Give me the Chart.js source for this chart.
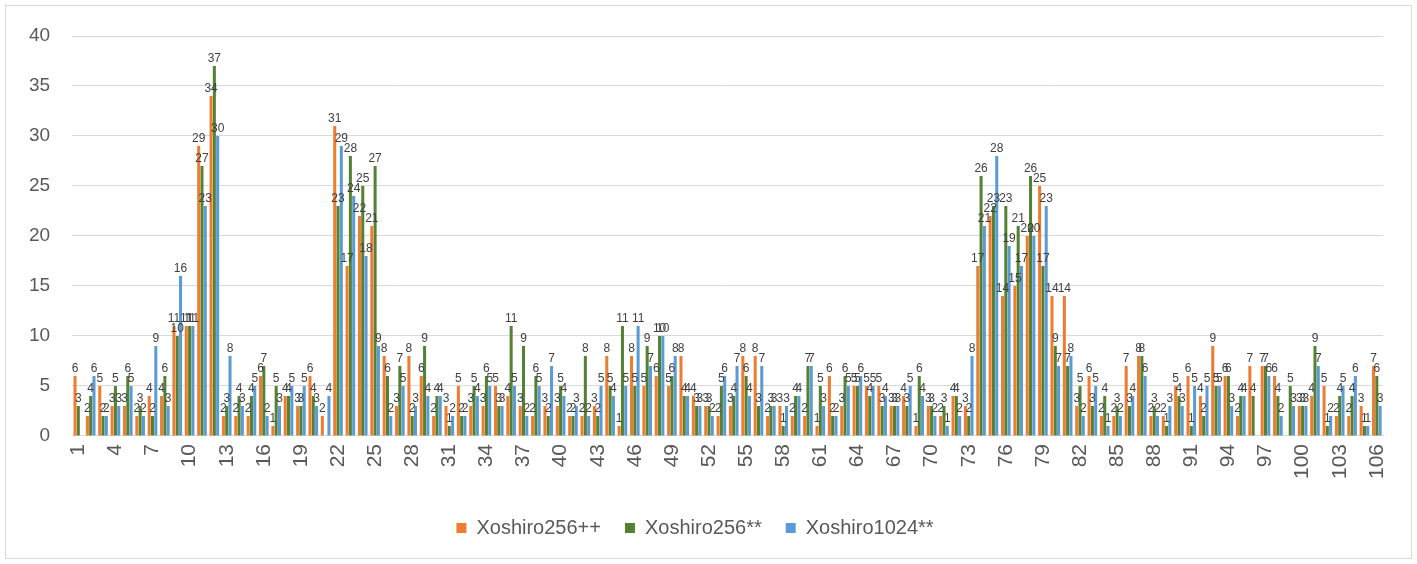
<!DOCTYPE html>
<html>
<head>
<meta charset="utf-8">
<script src="https://cdn.jsdelivr.net/npm/chart.js@4.4.1/dist/chart.umd.min.js"></script>
<style>
  html, body { margin: 0; padding: 0; background: #ffffff; }
  #wrap { position: relative; width: 1417px; height: 564px; }
</style>
</head>
<body>
<div id="wrap"><canvas id="c"></canvas></div>
<script>
const categories = Array.from({length: 106}, (_, i) => String(i + 1));

const xoshiro256pp = [6,2,5,3,3,2,4,4,11,11, 29,34,2,2,2,6,1,4,3,6, 2,31,17,22,21,8,3,8,6,2, 3,5,3,3,5,4,3,2,3,3, 2,2,3,8,1,8,5,6,5,8, 4,3,2,3,8,8,2,3,2,2, 1,6,3,5,5,5,3,4,1,3, 2,4,3,17,22,14,15,20,25,14, 14,3,6,2,2,7,8,2,2,5, 6,4,9,6,2,7,7,6,null,3, 4,5,2,2,3,7];
const xoshiro256ss = [3,4,2,5,6,3,2,6,10,11, 27,37,3,4,4,7,5,4,3,4, null,23,28,25,27,6,7,2,9,4, 1,2,5,6,3,11,9,6,2,5, 2,8,2,5,11,5,9,10,6,4, 3,3,5,4,6,3,3,1,4,7, 5,2,6,5,4,3,3,3,6,3, 3,4,2,26,23,23,21,26,17,9, 7,5,3,4,3,3,8,3,1,4, 1,2,5,6,4,4,7,4,5,3, 9,1,4,4,1,6];
const xoshiro1024ss = [null,6,2,3,5,2,9,3,16,11, 23,30,8,3,5,2,3,5,5,3, 4,29,24,18,9,2,5,3,4,4, 2,2,4,5,3,5,2,5,7,4, 3,2,5,4,5,11,7,10,8,4, 3,2,6,7,4,7,3,3,4,7, 3,2,5,6,5,4,3,5,4,2, 1,2,8,21,28,19,17,20,23,7, 8,2,5,1,2,4,6,2,3,3, 5,5,5,3,4,null,6,2,3,3, 7,2,5,6,1,3];
const yTicks = [0,5,10,15,20,25,30,35,40];

const seriesNames = ['Xoshiro256++', 'Xoshiro256**', 'Xoshiro1024**'];
const seriesColors = ['#ED7D31', '#548235', '#5B9BD5'];
const seriesData = [xoshiro256pp, xoshiro256ss, xoshiro1024ss];

const FONT = "'Liberation Sans', 'DejaVu Sans', sans-serif";

const dataLabels = {
  id: 'dataLabels',
  afterDatasetsDraw(chart) {
    const ctx = chart.ctx;
    ctx.save();
    ctx.font = '12px ' + FONT;
    ctx.fillStyle = '#404040';
    ctx.textAlign = 'center';
    ctx.textBaseline = 'bottom';
    chart.data.datasets.forEach((ds, di) => {
      const meta = chart.getDatasetMeta(di);
      meta.data.forEach((el, i) => {
        const v = ds.data[i];
        if (v === null || v === undefined) return;
        ctx.fillText(String(v), el.x, el.y - 1);
      });
    });
    ctx.restore();
  }
};

const frame = {
  id: 'frame',
  beforeDraw(chart) {
    const ctx = chart.ctx;
    ctx.save();
    ctx.fillStyle = '#ffffff';
    ctx.fillRect(0, 0, chart.width, chart.height);
    ctx.strokeStyle = '#d9d9d9';
    ctx.lineWidth = 1;
    ctx.strokeRect(5.5, 5.5, chart.width - 11, chart.height - 11);
    ctx.restore();
  }
};

new Chart(document.getElementById('c'), {
  type: 'bar',
  data: {
    labels: categories,
    datasets: seriesNames.map((n, k) => ({
      label: n,
      data: seriesData[k],
      backgroundColor: seriesColors[k],
      borderWidth: 0,
      categoryPercentage: 0.8,
      barPercentage: 0.92
    }))
  },
  options: {
    responsive: true,
    maintainAspectRatio: false,
    animation: false,
    layout: { padding: { top: 36, right: 34, left: 7, bottom: 16 } },
    plugins: {
      legend: {
        position: 'bottom',
        labels: {
          boxWidth: 10, boxHeight: 10,
          padding: 24,
          color: '#595959',
          font: { family: FONT, size: 20 }
        }
      },
      tooltip: { enabled: false }
    },
    scales: {
      x: {
        grid: { display: false, drawTicks: false },
        border: { display: true, color: '#d9d9d9', width: 1 },
        afterFit(scale) { scale.height += 7; },
        ticks: {
          autoSkip: false,
          minRotation: 90, maxRotation: 90,
          padding: 8,
          color: '#595959',
          font: { family: FONT, size: 21 },
          callback: function(val, idx) { return idx % 3 === 0 ? categories[idx] : ''; }
        }
      },
      y: {
        min: 0, max: 40,
        afterBuildTicks(axis) { axis.ticks = yTicks.map(v => ({ value: v })); },
        grid: { color: '#d9d9d9', lineWidth: 1, drawTicks: false },
        border: { display: false },
        ticks: {
          padding: 22,
          color: '#595959',
          font: { family: FONT, size: 19 }
        }
      }
    }
  },
  plugins: [frame, dataLabels]
});
</script>
</body>
</html>
